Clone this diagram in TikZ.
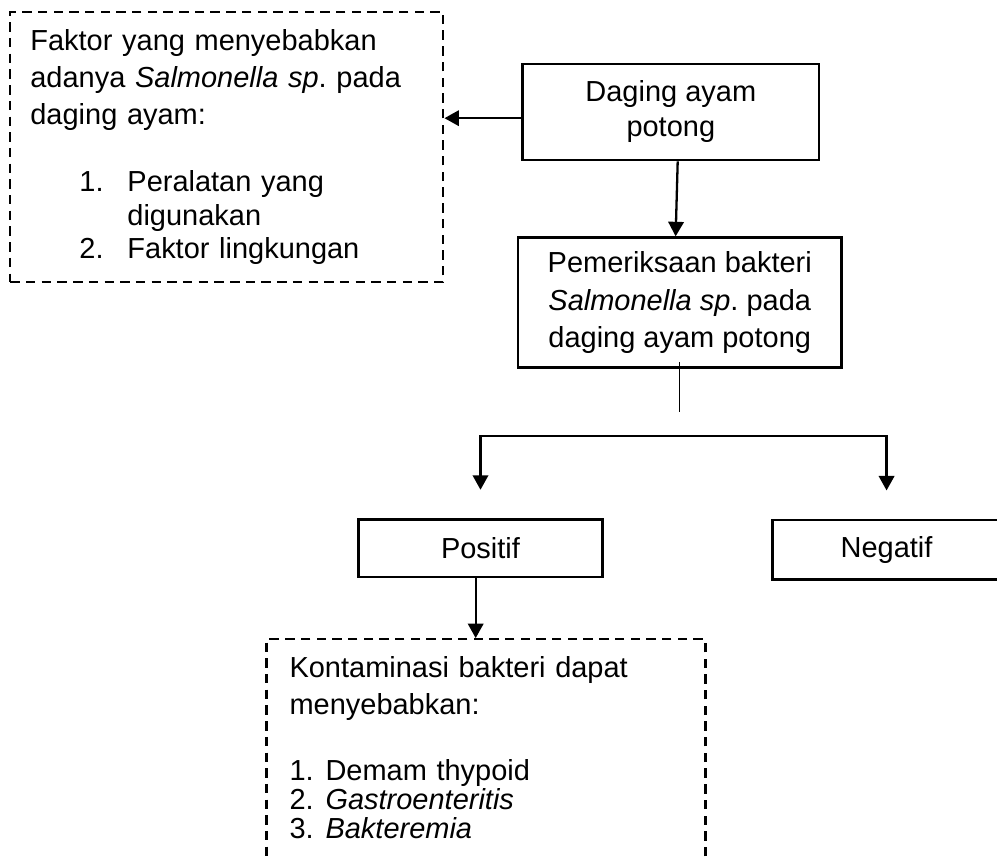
\documentclass[tikz,border=0pt]{standalone}
\usepackage{fontspec}
\setmainfont{Liberation Sans}
\frenchspacing
\usepackage{tikz}
\usetikzlibrary{arrows.meta,shapes,positioning,calc}
\tikzstyle{arrow} = [line width=0.95pt,->,>={Triangle[length=6pt,width=6.4pt]}]
\tikzstyle{stembar} = [line width=0.55pt]
\tikzstyle{resultbox} = [rectangle, draw, line width=1.1pt, inner sep=2pt, text centered, align=center, font=\fontsize{12}{15.5}\selectfont]
\tikzstyle{notebox} = [rectangle, draw, line width=0.95pt, dash pattern=on 3.9pt off 2.6pt, text width=162.7pt, align=left, inner ysep=7pt, font=\fontsize{12}{15.5}\selectfont]

\begin{document}
\begin{tikzpicture}
\useasboundingbox (0,0) rectangle (14.51,-12.48);
\clip (0,0) rectangle (14.51,-12.48);

% Daging ayam potong
\node[resultbox, minimum width=4.31cm, minimum height=1.40cm] (daging) at (9.763,-1.630) {Daging ayam\\[-1pt]potong};

% Faktor penyebab
\node[notebox, left=1.12cm of daging, yshift=-0.51cm, inner xsep=8.3pt, minimum height=3.87cm] (faktor) {
Faktor yang menyebabkan\\
adanya \textit{Salmonella sp}. pada\\
daging ayam:\\[12.2pt]
\hspace*{20.3pt}\makebox[19.9pt][l]{1.}Peralatan yang\\[-1.6pt]
\hspace*{40.2pt}digunakan\\[-1.6pt]
\hspace*{20.3pt}\makebox[19.9pt][l]{2.}Faktor lingkungan
};

% Pemeriksaan
\node[resultbox, below=1.09cm of daging, xshift=0.13cm, minimum width=4.71cm, minimum height=1.89cm] (pemeriksaan) {
Pemeriksaan bakteri\\
\textit{Salmonella sp}. pada\\
daging ayam potong
};

% Hasil
\node[resultbox, below=2.17cm of pemeriksaan, xshift=-2.90cm, minimum width=3.55cm, minimum height=0.84cm] (positif) {Positif};
\node[resultbox, below=2.18cm of pemeriksaan, xshift=3.01cm, minimum width=3.32cm, minimum height=0.87cm] (negatif) {Negatif};

% Akibat kontaminasi
\node[notebox, below=0.87cm of positif, xshift=0.08cm, inner xsep=9.5pt, text depth=100pt] (kontaminasi) {
Kontaminasi bakteri dapat\\
menyebabkan:\\[11.8pt]
\makebox[14.9pt][l]{1.}Demam thypoid\\[-3.5pt]
\makebox[14.9pt][l]{2.}\textit{Gastroenteritis}\\[-3.5pt]
\makebox[14.9pt][l]{3.}\textit{Bakteremia}
};

\coordinate[below=0.63cm of pemeriksaan] (stem);
\coordinate[below=0.975cm of pemeriksaan] (bar);
\coordinate[above=0.41cm of positif] (tipP);
\coordinate[above=0.41cm of negatif] (tipN);

\draw[arrow] ([yshift=-0.09cm]daging.west) -- ([yshift=-0.09cm]daging.west -| faktor.east);
\draw[arrow] ([xshift=0.1cm]daging.south) -- ([xshift=-0.06cm]pemeriksaan.north);
\draw[stembar] ([yshift=0.1cm]pemeriksaan.south) -- (stem);
\draw[arrow, <->] (tipP) |- (bar) -| (tipN);
\draw[arrow] ([xshift=-0.07cm]positif.south) -- ([xshift=-0.07cm]positif.south |- kontaminasi.north);
\end{tikzpicture}
\end{document}
